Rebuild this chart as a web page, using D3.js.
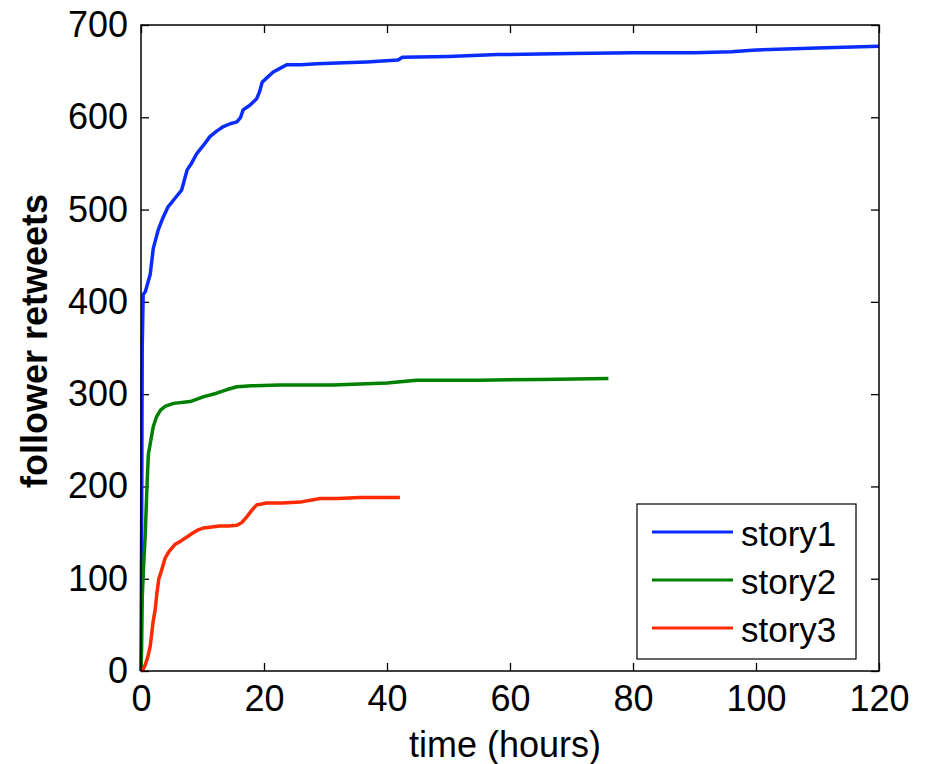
<!DOCTYPE html>
<meta charset="utf-8">
<title>Follower retweets over time</title>
<style>
  body { margin: 0; background: #fff; }
  svg text { font-family: "Liberation Sans", Arial, sans-serif; fill: #000; }
</style>
<script src="https://d3js.org/d3.v7.js"></script>
<svg id="chart" width="925" height="764"></svg>
<script>
  // values (hours, cumulative retweets)
  const story1T = [0, 0.1, 0.2, 0.35, 0.7, 1.0, 1.5, 2.0, 2.8, 3.5, 4.4, 5.5, 6.6, 7.5, 8.2, 9.1, 10.2, 11.2, 12.3, 13.4, 14.5, 15.6, 16.2, 16.6, 17.7, 18.8, 19.3, 19.7, 20.5, 21.5, 22.6, 23.7, 26, 28.6, 33, 36.7, 41.8, 42.5, 50, 58, 70, 80, 90, 96, 100, 110, 120];
  const story1V = [0, 150, 350, 408, 411, 418, 430, 458, 478, 490, 503, 512, 521, 543, 550, 561, 570, 579, 585, 590, 593, 595, 600, 608, 613, 620, 628, 638, 643, 649, 653, 657, 657, 658, 659, 660, 662, 665, 666, 668, 669, 670, 670, 671, 673, 675, 677];

  const story2T = [0, 0.1, 0.2, 0.4, 0.7, 1.0, 1.2, 1.6, 2.0, 2.5, 3.2, 4.0, 5.3, 8.0, 10.1, 12.3, 14, 15.6, 18, 22.6, 31.2, 40, 44.8, 55, 65, 76];
  const story2V = [0, 25, 80, 110, 150, 205, 235, 250, 265, 275, 283, 287, 290, 292, 297, 301, 305, 308, 309, 310, 310, 312, 315, 315, 316, 317];

  const story3T = [0, 0.3, 0.65, 1.1, 1.5, 2.0, 2.3, 2.6, 2.9, 3.2, 3.9, 4.6, 5.5, 6.5, 7.4, 8.3, 9.3, 10.2, 11.5, 12.8, 14.2, 15.6, 16.4, 17.2, 18.0, 18.8, 19.6, 20.4, 23, 25.9, 29.1, 32, 35.6, 42.1];
  const story3V = [0, 1, 6, 15, 27, 55, 66, 85, 100, 106, 122, 130, 137, 141, 145, 149, 153, 155, 156, 157, 157, 158, 161, 167, 174, 180, 181, 182, 182, 183, 187, 187, 188, 188];

  const seriesNames = ["story1", "story2", "story3"];
  const seriesColors = ["#0a2cff", "#008000", "#ff2a00"];
  const xTicks = [0, 20, 40, 60, 80, 100, 120];
  const yTicks = [0, 100, 200, 300, 400, 500, 600, 700];

  const svg = d3.select("#chart");
  const plotLeft = 141, plotRight = 879, plotTop = 25, plotBottom = 671;

  const x = d3.scaleLinear().domain([0, 120]).range([plotLeft, plotRight]);
  const y = d3.scaleLinear().domain([0, 700]).range([plotBottom, plotTop]);

  const series = [
    story1T.map((t, i) => [t, story1V[i]]),
    story2T.map((t, i) => [t, story2V[i]]),
    story3T.map((t, i) => [t, story3V[i]])
  ];

  // axes with inward ticks, mirrored on top and right
  function styleAxis(g, labels) {
    g.select(".domain").remove();
    g.selectAll(".tick line").attr("stroke", "#000").attr("stroke-width", 1.3);
    g.selectAll(".tick text").style("font-size", "36px");
    if (!labels) g.selectAll(".tick text").remove();
  }

  svg.append("g")
    .attr("transform", `translate(0,${plotBottom})`)
    .call(d3.axisBottom(x).tickValues(xTicks).tickSizeInner(-8).tickSizeOuter(0).tickPadding(14))
    .call(g => styleAxis(g, true));

  svg.append("g")
    .attr("transform", `translate(0,${plotTop})`)
    .call(d3.axisTop(x).tickValues(xTicks).tickSizeInner(-8).tickSizeOuter(0))
    .call(g => styleAxis(g, false));

  svg.append("g")
    .attr("transform", `translate(${plotLeft},0)`)
    .call(d3.axisLeft(y).tickValues(yTicks).tickSizeInner(-8).tickSizeOuter(0).tickPadding(13))
    .call(g => styleAxis(g, true));

  svg.append("g")
    .attr("transform", `translate(${plotRight},0)`)
    .call(d3.axisRight(y).tickValues(yTicks).tickSizeInner(-8).tickSizeOuter(0))
    .call(g => styleAxis(g, false));

  // the lines
  const line = d3.line()
    .x(d => x(d[0]))
    .y(d => y(d[1]));

  svg.append("g")
    .selectAll("path")
    .data(series)
    .join("path")
    .attr("d", line)
    .attr("fill", "none")
    .attr("stroke", (d, i) => seriesColors[i])
    .attr("stroke-width", 3.5)
    .attr("stroke-linejoin", "round");

  // plot box
  svg.append("rect")
    .attr("x", plotLeft).attr("y", plotTop)
    .attr("width", plotRight - plotLeft).attr("height", plotBottom - plotTop)
    .attr("fill", "none")
    .attr("stroke", "#000")
    .attr("stroke-width", 1.5);

  // legend
  const legend = svg.append("g").attr("transform", "translate(637,504)");
  legend.append("rect")
    .attr("width", 219).attr("height", 155)
    .attr("fill", "#fff")
    .attr("stroke", "#000")
    .attr("stroke-width", 1.2);

  const rows = legend.selectAll("g.row")
    .data(seriesNames)
    .join("g")
    .attr("class", "row")
    .attr("transform", (d, i) => `translate(0,${28 + i * 48})`);

  rows.append("line")
    .attr("x1", 15).attr("x2", 96)
    .attr("stroke", (d, i) => seriesColors[i])
    .attr("stroke-width", 3);

  rows.append("text")
    .attr("x", 104)
    .attr("y", 14)
    .style("font-size", "35px")
    .text(d => d);

  // axis titles
  svg.append("text")
    .attr("x", 505)
    .attr("y", 757)
    .attr("text-anchor", "middle")
    .style("font-size", "36px")
    .text("time (hours)");

  svg.append("text")
    .attr("transform", "translate(47,341) rotate(-90)")
    .attr("text-anchor", "middle")
    .style("font-size", "36px")
    .style("font-weight", "bold")
    .text("follower retweets");
</script>
